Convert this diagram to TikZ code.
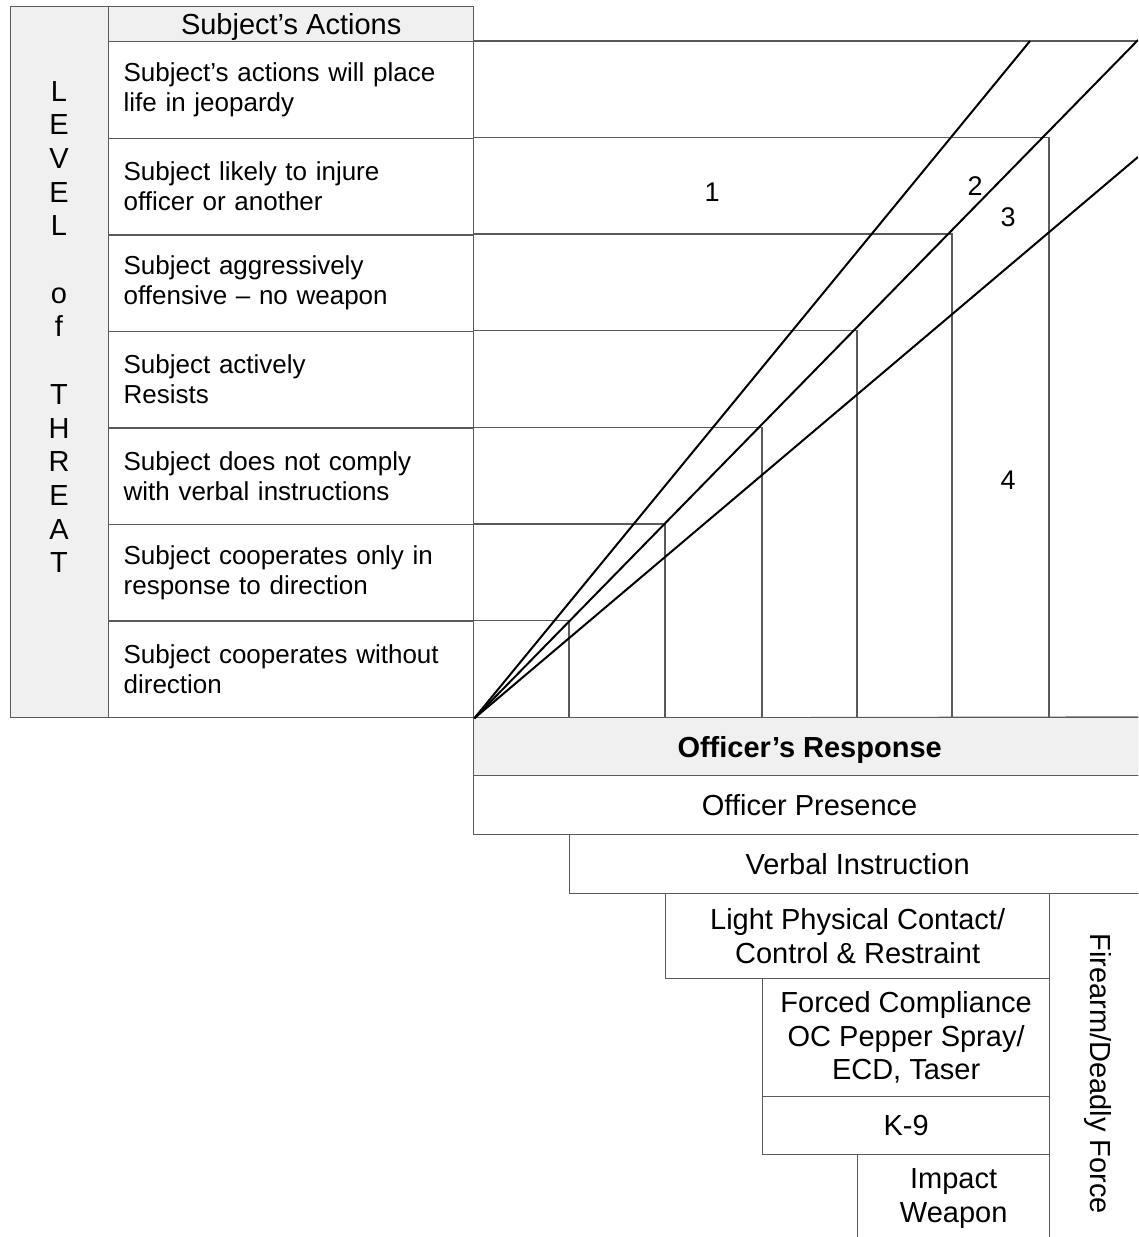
\documentclass[tikz,border=0pt]{standalone}
\usepackage{fontspec}
\setmainfont{Liberation Sans}
\definecolor{shade}{HTML}{F0F0F0}
\definecolor{rule}{HTML}{5A5A5A}
\tikzset{
  grid/.style={draw=rule, line width=1.3pt},
  rowbox/.style={grid, rectangle, anchor=north west, minimum height=96.6pt,
    text width=335pt, inner xsep=15pt, align=left, font=\fontsize{26}{30}\selectfont},
  respbox/.style={grid, rectangle, anchor=north west, align=center,
    font=\fontsize{29}{33.5}\selectfont},
  ray/.style={black, line width=2pt},
  zone/.style={font=\fontsize{27}{30}\selectfont},
}

\begin{document}
\begin{tikzpicture}[x=1pt, y=-1pt]
    \useasboundingbox (0,0) rectangle (1138,1237);
    \clip (0,0) rectangle (1138,1237);
    % linke Spalte:
    \node[grid, fill=shade, anchor=north west, minimum width=98pt, minimum height=711pt] (level) at (10,6) {};
    \node[align=center, font=\fontsize{29}{33.7}\selectfont] (leveltxt) at (59,327)
        {L\\E\\V\\E\\L\\\mbox{}\\o\\f\\\mbox{}\\T\\H\\R\\E\\A\\T};
    \node[grid, fill=shade, anchor=north west, minimum width=365pt, minimum height=35pt, text depth=0pt,
        font=\fontsize{29}{33}\selectfont] (head) at (108,6) {Subject's Actions};
    % Zeilen:
    \node[rowbox] (r1) at (108,41) {Subject's actions will place\\life in jeopardy};
    \node[rowbox] (r2) at (108,137.6) {Subject likely to injure\\officer or another};
    \node[rowbox] (r3) at (108,234.1) {Subject aggressively\\offensive -- no weapon};
    \node[rowbox] (r4) at (108,330.7) {Subject actively\\Resists};
    \node[rowbox] (r5) at (108,427.3) {Subject does not comply\\with verbal instructions};
    \node[rowbox] (r6) at (108,523.9) {Subject cooperates only in\\response to direction};
    \node[rowbox] (r7) at (108,620.4) {Subject cooperates without\\direction};
    % Treppe:
    \draw[grid] (r1.north east) -- (1138,41); % oberste Linie
    \draw[grid] (r2.north east) -| (1049,717);
    \draw[grid] (r3.north east) -| (952,717);
    \draw[grid] (r4.north east) -| (857,717);
    \draw[grid] (r5.north east) -| (762,717);
    \draw[grid] (r6.north east) -| (665,717);
    \draw[grid] (r7.north east) -| (569,717);
    \draw[grid] (r7.south east) -- (1138,717); % Grundlinie
    % Antworten:
    \node[respbox, fill=shade, font={\fontsize{29}{33.5}\selectfont\bfseries}, text depth=0pt,
        minimum width=672pt, minimum height=58pt] (resp) at (473,717) {Officer's Response};
    \node[respbox, minimum width=672pt, minimum height=59pt] (pres) at (473,775) {Officer Presence};
    \node[respbox, minimum width=576pt, minimum height=59pt] (verb) at (569,834) {Verbal Instruction};
    \node[respbox, minimum width=384pt, minimum height=85pt] (light) at (665,893)
        {Light Physical Contact/\\Control \& Restraint};
    \node[respbox, minimum width=287pt, minimum height=118pt] (forced) at (762,978)
        {Forced Compliance\\OC Pepper Spray/\\ECD, Taser};
    \node[respbox, minimum width=287pt, minimum height=58pt] (k9) at (762,1096) {K-9};
    \node[respbox, minimum width=192pt, minimum height=88pt] (impact) at (857,1154) {Impact\\Weapon};
    \node[respbox, minimum width=96pt, minimum height=360pt] (fire) at (1049,893) {};
    \node[rotate=-90, font=\fontsize{29}{33.5}\selectfont] (firetxt) at (fire.center) {Firearm/Deadly Force};
    % Strahlen:
    \coordinate (o) at (r7.south east);
    \coordinate (e1) at (1030,41);
    \coordinate (e2) at (1138,40);
    \coordinate (e3) at (1138,157);
    \draw[ray] (o) -- (e1); % erster Strahl
    \draw[ray] (o) -- (e2); % zweiter Strahl
    \draw[ray] (o) -- (e3); % dritter Strahl
    % Zonen:
    \node[zone] (z1) at (712,192) {1};
    \node[zone] (z2) at (975,186) {2};
    \node[zone] (z3) at (1008,217) {3};
    \node[zone] (z4) at (1008,480) {4};
\end{tikzpicture}
\end{document}
